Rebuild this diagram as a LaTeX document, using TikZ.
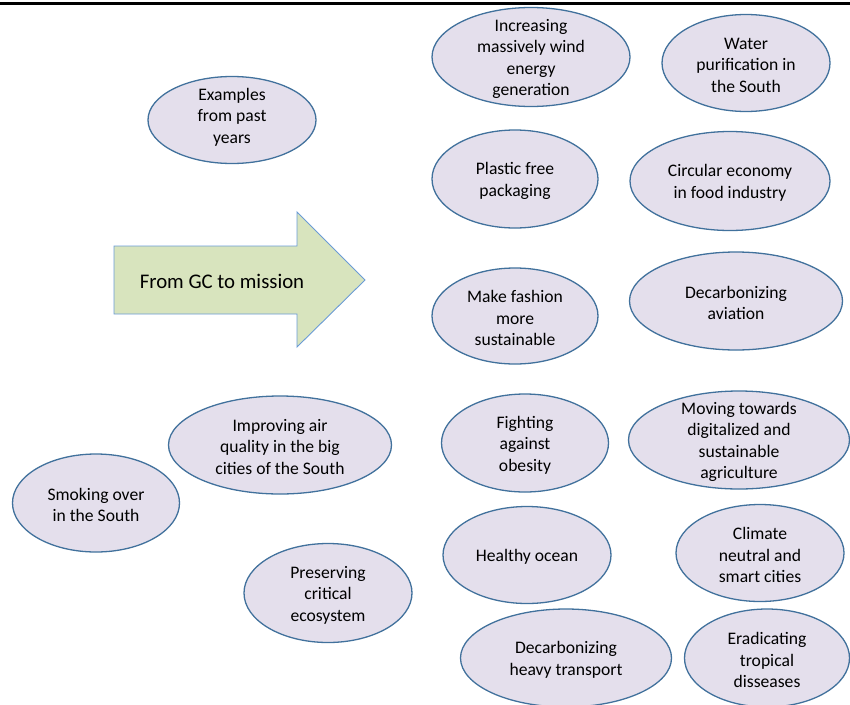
\documentclass[tikz,border=0pt]{standalone}
\usepackage{fontspec}
\setmainfont{Carlito}
\usetikzlibrary{shapes.geometric}

\definecolor{blobfill}{RGB}{228,223,236}
\definecolor{blobline}{RGB}{65,113,156}
\definecolor{arrowfill}{RGB}{216,228,190}
\definecolor{arrowline}{RGB}{106,155,214}

\tikzset{
  blob/.style={ellipse, draw=blobline, fill=blobfill, line width=1.3pt, inner sep=0pt},
  blobtext/.style={align=center, inner sep=0pt, yshift=-2pt, font=\fontsize{17.6}{21.5}\selectfont},
}

\begin{document}
\begin{tikzpicture}[x=1pt,y=-1pt]
            \useasboundingbox (0,0) rectangle (850,704);
            \newcommand{\bodyleft}{114}
            \newcommand{\headstart}{297}
            \newcommand{\tipx}{365}
            % top rule
            \draw[line width=3pt] (0,3) -- (850,3);
            % big arrow
            \draw[fill=arrowfill, draw=arrowline, line width=0.9pt] (\bodyleft,246) -- (\headstart,246) -- (\headstart,212) -- (\tipx,280)
            -- (\headstart,347) -- (\headstart,314) -- (\bodyleft,314) -- cycle;
            \node[blobtext, yshift=2pt, font=\fontsize{20.8}{25}\selectfont] (mission) at (222,281) {From GC to mission};
            % left side
            \node[blob, minimum width=168, minimum height=87] (past) at (232,120) {};
            \node[blobtext, yshift=5pt] at (past) {Examples\\from past\\years};
            \node[blob, minimum width=223, minimum height=98] (air) at (280,445) {};
            \node[blobtext] at (air) {Improving air\\quality in the big\\cities of the South};
            \node[blob, minimum width=167, minimum height=98] (smoking) at (96,503) {};
            \node[blobtext] at (smoking) {Smoking over\\in the South};
            \node[blob, minimum width=168, minimum height=99] (ecosystem) at (328,593) {};
            \node[blobtext] at (ecosystem) {Preserving\\critical\\ecosystem};
            % right side, first column
            \node[blob, minimum width=198, minimum height=99] (wind) at (531,57) {};
            \node[blobtext] at (wind) {Increasing\\massively wind\\energy\\generation};
            \node[blob, minimum width=166, minimum height=98] (plastic) at (515,179) {};
            \node[blobtext] at (plastic) {Plastic free\\packaging};
            \node[blob, minimum width=166, minimum height=96] (fashion) at (515,316) {};
            \node[blobtext] at (fashion) {Make fashion\\more\\sustainable};
            \node[blob, minimum width=167, minimum height=98] (obesity) at (525,443) {};
            \node[blobtext] at (obesity) {Fighting\\against\\obesity};
            \node[blob, minimum width=168, minimum height=97] (ocean) at (527,555) {};
            \node[blobtext] at (ocean) {Healthy ocean};
            \node[blob, minimum width=211, minimum height=98] (transport) at (566,658) {};
            \node[blobtext] at (transport) {Decarbonizing\\heavy transport};
            % right side, second column
            \node[blob, minimum width=168, minimum height=97] (water) at (746,63) {};
            \node[blobtext] at (water) {Water\\purification in\\the South};
            \node[blob, minimum width=200, minimum height=99] (circular) at (730,181) {};
            \node[blobtext] at (circular) {Circular economy\\in food industry};
            \node[blob, minimum width=213, minimum height=98] (aviation) at (736,301) {};
            \node[blobtext] at (aviation) {Decarbonizing\\aviation};
            \node[blob, minimum width=221, minimum height=98] (agriculture) at (739,440) {};
            \node[blobtext] at (agriculture) {Moving towards\\digitalized and\\sustainable\\agriculture};
            \node[blob, minimum width=168, minimum height=97] (cities) at (760,553) {};
            \node[blobtext] at (cities) {Climate\\neutral and\\smart cities};
            \node[blob, minimum width=165, minimum height=98] (tropical) at (767,658) {};
            \node[blobtext] at (tropical) {Eradicating\\tropical\\disseases};
\end{tikzpicture}
\end{document}
